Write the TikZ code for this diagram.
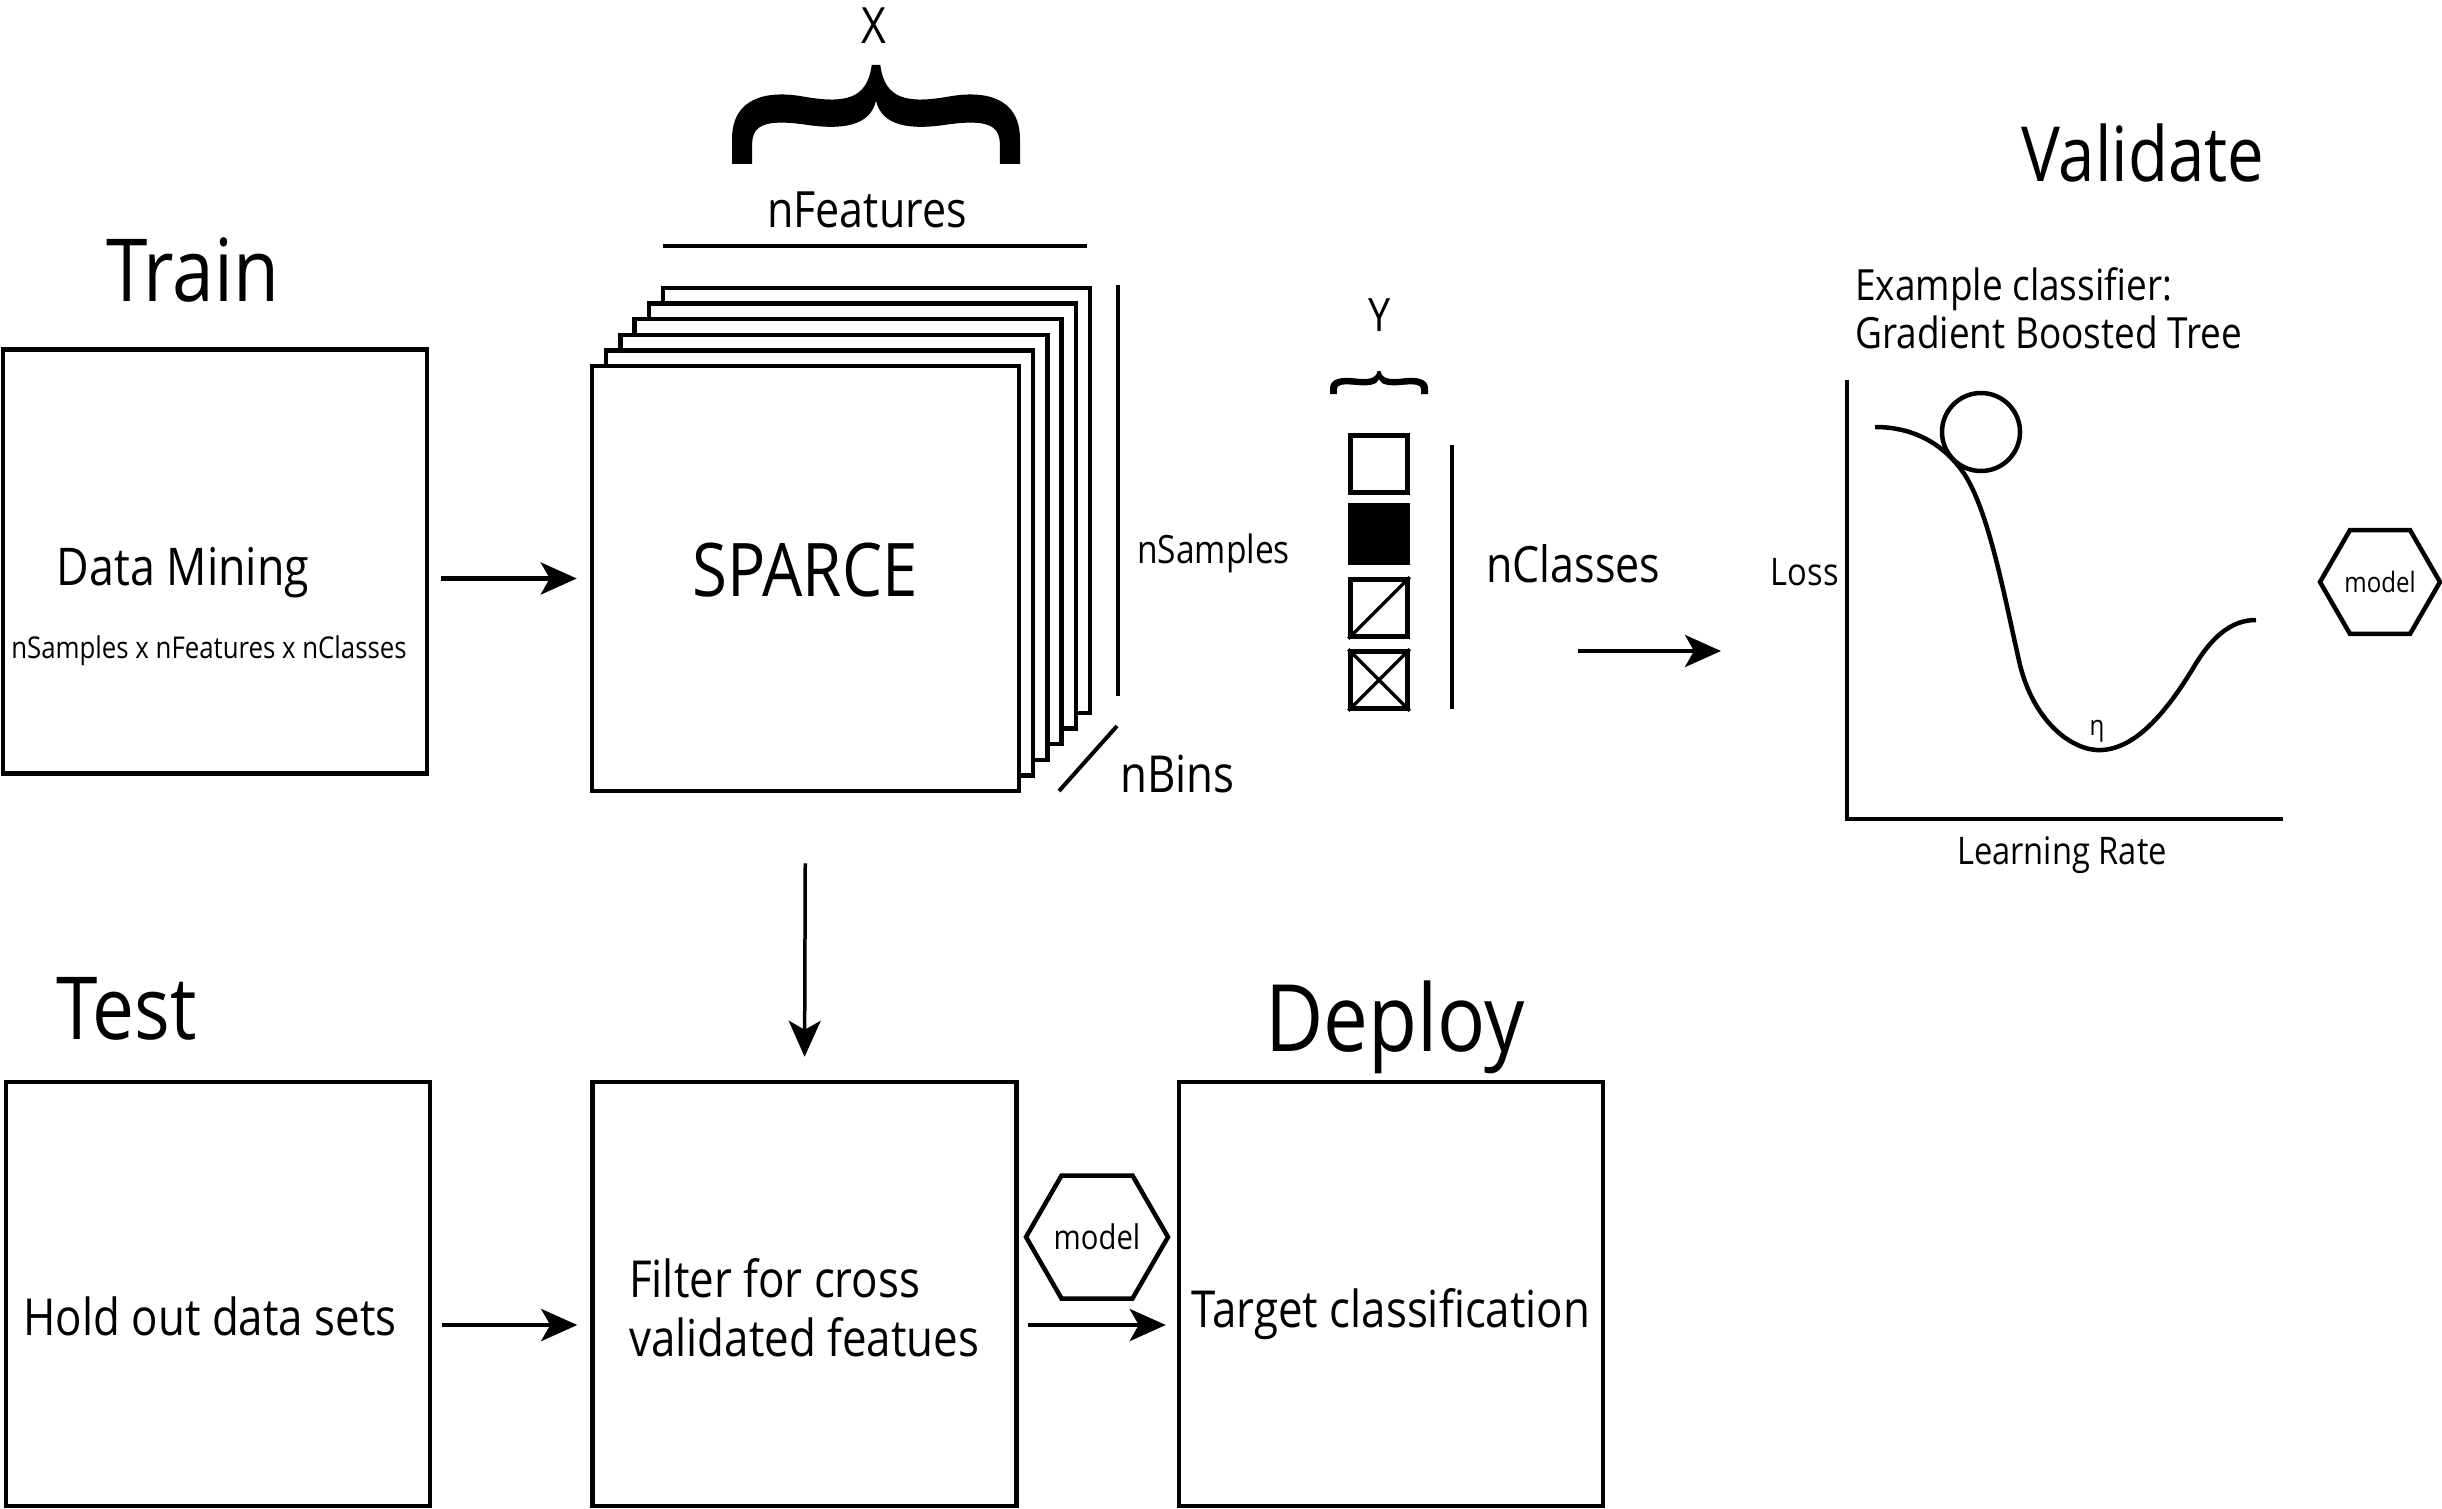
\documentclass[tikz,border=0pt]{standalone}
\usepackage{fontspec}
\setmainfont{Open Sans}[FakeStretch=0.86]
\usetikzlibrary{arrows.meta}
\usetikzlibrary{shapes.geometric}
\newcommand{\fsz}[2]{\fontsize{#1}{#2}\selectfont}
\newcommand{\curlybrace}{(0,1) -- (0,0.75) .. controls (0,0.33) and (0.12,0.25) .. (0.25,0.32)
  .. controls (0.39,0.39) and (0.47,0.35) .. (0.485,0) -- (0.515,0)
  .. controls (0.53,0.35) and (0.61,0.39) .. (0.75,0.32)
  .. controls (0.88,0.25) and (1,0.33) .. (1,0.75) -- (1,1) -- (0.93,1) -- (0.93,0.8)
  .. controls (0.93,0.6) and (0.88,0.55) .. (0.75,0.6)
  .. controls (0.62,0.66) and (0.52,0.62) .. (0.5,0.36)
  .. controls (0.48,0.62) and (0.38,0.66) .. (0.25,0.6)
  .. controls (0.12,0.55) and (0.07,0.6) .. (0.07,0.8) -- (0.07,1) -- cycle}

\begin{document}
\begin{tikzpicture}[x=1pt, y=-1pt,
  box/.style={draw, line width=4.5pt, minimum width=424pt, minimum height=424pt, inner sep=0pt},
  layer/.style={box, fill=white, minimum width=427pt, minimum height=425pt},
  cls/.style={draw, line width=4.5pt, minimum size=57pt, inner sep=0pt},
  hexa/.style={draw, regular polygon, regular polygon sides=6, line width=4.5pt, inner sep=0pt},
  arr/.style={-{Stealth[length=36pt, width=32pt, inset=9pt]}, line width=4.5pt},
  title/.style={anchor=base west, inner sep=0pt},
  lbl/.style={font=\fsz{51}{59}, inner sep=0pt}]
  \useasboundingbox (0,0) rectangle (2442,1509);

  \node[title, font=\fsz{87}{100}] (train) at (106,301) {Train};
  \node[title, font=\fsz{87}{100}] (test) at (56,1039) {Test};
  \node[title, font=\fsz{93}{100}] (deploy) at (1265,1051) {Deploy};
  \node[title, font=\fsz{76}{90}] (validate) at (2021,182) {Validate};

  \node[box] (dm) at (215,561.5) {};
  \node[lbl, font=\fsz{52}{60}] (dmtext) at (183,573) {Data Mining};
  \node[lbl, font=\fsz{30}{36}] (dmsize) at (209,651) {nSamples x nFeatures x nClasses};

  \foreach \k in {5,4,...,1}
    \node[layer] (layer\k) at (805.5+14.2*\k, 578.5-15.6*\k) {};
  \node[layer] (sparce) at (805.5,578.5) {};
  \node[lbl, font=\fsz{74}{80}] (sparcetext) at (805,570) {SPARCE};

  \begin{scope}[shift={(732,65)}, xscale=288, yscale=99]
    \fill \curlybrace;
  \end{scope}
  \node[lbl, font=\fsz{50}{60}] (xlab) at (874,26) {X};
  \node[lbl, font=\fsz{50}{60}] (nfeat) at (867,210) {nFeatures};
  \draw[line width=4.5pt] (663,246) -- (1087,246);
  \draw[line width=4pt] (1118,285) -- (1118,696);
  \node[lbl, font=\fsz{39}{45}, anchor=west] (nsamp) at (1137,553) {nSamples};
  \draw[line width=4pt] (1117,726) -- (1059,791);
  \node[lbl, anchor=west] (nbins) at (1120,774) {nBins};

  \begin{scope}[shift={(1330,371)}, xscale=98, yscale=23]
    \fill \curlybrace;
  \end{scope}
  \node[lbl, font=\fsz{46}{55}] (ylab) at (1380,315) {Y};
  \node[cls] (y1) at (1379,464) {};
  \node[cls, fill=black] (y2) at (1379,534) {};
  \node[cls] (y3) at (1379,608) {};
  \node[cls] (y4) at (1379,680) {};
  \draw[line width=3.5pt] (y3.south west) -- (y3.north east);
  \draw[line width=3.5pt] (y4.south west) -- (y4.north east);
  \draw[line width=3.5pt] (y4.north west) -- (y4.south east);
  \draw[line width=4pt] (1452,445) -- (1452,709);
  \node[lbl, anchor=west, font=\fsz{50}{60}] (ncls) at (1486,564) {nClasses};

  \node[lbl, anchor=west, align=left, font=\fsz{43}{48}] (example) at (1855,308) {Example classifier:\\Gradient Boosted Tree};
  \draw[line width=4.5pt] (1847,380) -- (1847,819) -- (2283,819);
  \node[lbl, anchor=east, font=\fsz{38}{44}] (loss) at (1839,572) {Loss};
  \node[lbl, font=\fsz{38}{44}] (lrate) at (2062,855) {Learning Rate};
  \draw[line width=4.5pt] (1875,427) .. controls (1915,427) and (1945,445) .. (1965,475)
    .. controls (1990,515) and (2005,600) .. (2020,665)
    .. controls (2035,725) and (2075,752) .. (2102,750)
    .. controls (2135,748) and (2165,715) .. (2195,665)
    .. controls (2215,632) and (2235,620) .. (2256,620);
  \node[draw, circle, line width=4.5pt, minimum size=78pt, inner sep=0pt] (ball) at (1981,432) {};
  \node[lbl, font=\fsz{28}{34}] (eta) at (2097,731) {η};
  \node[hexa, minimum size=120pt, font=\fsz{28}{34}] (model1) at (2380,582) {model};

  \node[box] (hold) at (218,1294) {};
  \node[lbl] (holdtext) at (210,1316) {Hold out data sets};
  \node[box] (filter) at (804.5,1294) {};
  \node[lbl, anchor=west, align=left] (filtertext) at (629,1308) {Filter for cross\\validated featues};
  \node[box] (target) at (1391,1294) {};
  \node[lbl] (targettext) at (1391,1314) {Target classification};
  \node[hexa, minimum size=142pt, font=\fsz{34}{40}] (model2) at (1097,1237) {model};

  \coordinate (vfrom) at (1578,651);
  \coordinate (vto) at (1721,651);
  \draw[arr, shorten <=12pt, shorten >=13pt] (dm.east |- sparce.west) -- (sparce.west);
  \draw[arr, line width=3.5pt, shorten <=70pt, shorten >=23pt] (sparce.south) -- (filter.north);
  \draw[arr] (vfrom) -- (vto);
  \draw[arr, shorten <=10pt, shorten >=13pt] ([yshift=-31pt]hold.east) -- ([yshift=-31pt]filter.west);
  \draw[arr, shorten <=9pt, shorten >=11pt] ([yshift=-31pt]filter.east) -- ([yshift=-31pt]target.west);
\end{tikzpicture}
\end{document}
